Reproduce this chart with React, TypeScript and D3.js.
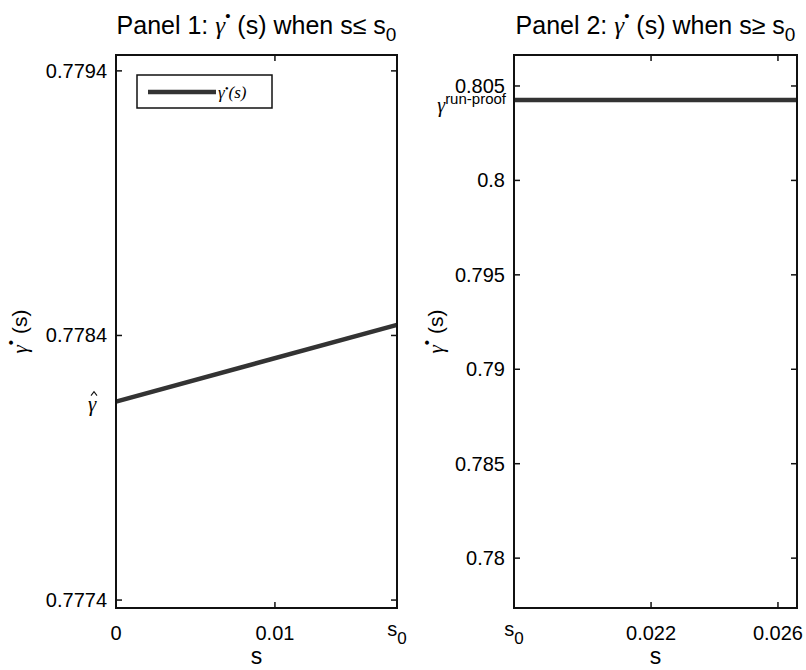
import React from "react";
import * as d3 from "d3";

const S0 = 0.01768;
const panel1S = [0, S0];
const panel1Gamma = [0.77815, 0.77844];
const panel1YTicks = [0.7774, 0.7784, 0.7794];
const panel1XTicks = [0, 0.01, S0];
const panel1XLabels = ["0", "0.01", "s0"];
const panel1Domain = { x: [0, S0], y: [0.77737, 0.77946] };
const gammaHat = 0.77815;

const panel2S = [S0, 0.0266];
const panel2Gamma = [0.80426, 0.80426];
const panel2YTicks = [0.78, 0.785, 0.79, 0.795, 0.8, 0.805];
const panel2XTicks = [S0, 0.022, 0.026];
const panel2XLabels = ["s0", "0.022", "0.026"];
const panel2Domain = { x: [S0, 0.0266], y: [0.77736, 0.80664] };
const gammaRunProof = 0.80426;

const FONT = "'Liberation Sans', Arial, sans-serif";
const SERIF = "'Liberation Serif', 'DejaVu Serif', serif";
const LINE = "#333333";

type PanelProps = {
  left: number; right: number; top: number; bottom: number;
  xs: number[]; ys: number[]; xTicks: number[]; xLabels: string[];
  yTicks: number[]; yFmt: (v: number) => string;
  domain: { x: number[]; y: number[] };
  title: string; rel: string;
  extra: { v: number; kind: "hat" | "run" };
  ylabelOffset: number;
  legend?: boolean;
};

function XLabel({ x, y, label }: { x: number; y: number; label: string }) {
  if (label === "s0") {
    return (
      <text x={x} y={y} fontFamily={FONT} fontSize={20} textAnchor="middle">
        <tspan dy={-4}>s</tspan>
        <tspan dy={8} fontSize={17}>0</tspan>
      </text>
    );
  }
  return (
    <text x={x} y={y} fontFamily={FONT} fontSize={20} textAnchor="middle">{label}</text>
  );
}

function Panel(p: PanelProps) {
  const x = d3.scaleLinear().domain(p.domain.x).range([p.left, p.right]);
  const y = d3.scaleLinear().domain(p.domain.y).range([p.bottom, p.top]);
  const line = d3.line<number>().x((_, i) => x(p.xs[i])).y((d) => y(d));
  const tl = 6;
  const cx = (p.left + p.right) / 2;
  const cy = (p.top + p.bottom) / 2;
  const ev = y(p.extra.v);
  return (
    <g>
      {/* title */}
      <text x={cx} y={34} fontFamily={FONT} fontSize={25} textAnchor="middle">
        <tspan>{p.title + " "}</tspan>
        <tspan fontFamily={SERIF} fontStyle="italic">γ</tspan>
        <tspan dy={-13} fontSize={15}>•</tspan>
        <tspan dy={13}>{" (s) when s"}</tspan>
        <tspan>{p.rel}</tspan>
        <tspan> s</tspan>
        <tspan dy={7} fontSize={19}>0</tspan>
      </text>
      {/* data line */}
      <path d={line(p.ys) || ""} fill="none" stroke={LINE} strokeWidth={4.5} />
      {/* frame */}
      <rect x={p.left} y={p.top} width={p.right - p.left} height={p.bottom - p.top} fill="none" stroke="#111" strokeWidth={2} />
      {/* x ticks */}
      {p.xTicks.map((t, i) => (
        <g key={"x" + i}>
          <line x1={x(t)} x2={x(t)} y1={p.bottom} y2={p.bottom - tl} stroke="#111" strokeWidth={1.5} />
          <line x1={x(t)} x2={x(t)} y1={p.top} y2={p.top + tl} stroke="#111" strokeWidth={1.5} />
          <XLabel x={x(t)} y={640} label={p.xLabels[i]} />
        </g>
      ))}
      {/* y ticks */}
      {p.yTicks.map((t, i) => (
        <g key={"y" + i}>
          <line x1={p.left} x2={p.left + tl} y1={y(t)} y2={y(t)} stroke="#111" strokeWidth={1.5} />
          <line x1={p.right} x2={p.right - tl} y1={y(t)} y2={y(t)} stroke="#111" strokeWidth={1.5} />
          <text x={p.left - 9} y={y(t) + 7} fontFamily={FONT} fontSize={20} textAnchor="end">{p.yFmt(t)}</text>
        </g>
      ))}
      {/* extra tick label */}
      {p.extra.kind === "hat" ? (
        <g>
          <text x={p.left - 28} y={ev + 9} fontFamily={SERIF} fontStyle="italic" fontSize={21}>γ</text>
          <path d={`M${p.left - 25},${ev - 6} L${p.left - 22},${ev - 10} L${p.left - 19},${ev - 6}`} fill="none" stroke="#111" strokeWidth={1.1} />
        </g>
      ) : (
        <text x={p.left - 8} y={ev + 12} fontFamily={FONT} fontSize={20} textAnchor="end">
          <tspan fontFamily={SERIF} fontStyle="italic">γ</tspan>
          <tspan dy={-8} fontSize={15}>run-proof</tspan>
        </text>
      )}
      {/* axis titles */}
      <text x={cx} y={664} fontFamily={FONT} fontSize={23} textAnchor="middle">s</text>
      <text transform={`translate(${p.left - p.ylabelOffset},${cy}) rotate(-90)`} fontFamily={FONT} fontSize={21} textAnchor="middle">
        <tspan fontFamily={SERIF} fontStyle="italic">γ</tspan>
        <tspan dy={-11} fontSize={15}>•</tspan>
        <tspan dy={11}>{" (s)"}</tspan>
      </text>
      {p.legend && (
        <g>
          <rect x={p.left + 21} y={75} width={135} height={33} fill="#fff" stroke="#111" strokeWidth={1.5} />
          <line x1={p.left + 32} x2={p.left + 100} y1={92} y2={92} stroke={LINE} strokeWidth={4.5} />
          <text x={p.left + 102} y={98} fontFamily={SERIF} fontStyle="italic" fontSize={17}>
            γ<tspan dy={-6} fontSize={11}>•</tspan><tspan dy={6}>{"(s)"}</tspan>
          </text>
        </g>
      )}
    </g>
  );
}

export default function App() {
  return (
    <svg width={806} height={670} style={{ display: "block", position: "absolute", left: 0, top: 0, background: "#fff" }}>
      <rect x={0} y={0} width={806} height={670} fill="#fff" />
      <Panel left={116} right={397} top={55} bottom={608}
        xs={panel1S} ys={panel1Gamma} xTicks={panel1XTicks} xLabels={panel1XLabels}
        yTicks={panel1YTicks} yFmt={(v) => v.toFixed(4)} domain={panel1Domain}
        title="Panel 1:" rel="≤" extra={{ v: gammaHat, kind: "hat" }} ylabelOffset={89} legend />
      <Panel left={514} right={797} top={55} bottom={608}
        xs={panel2S} ys={panel2Gamma} xTicks={panel2XTicks} xLabels={panel2XLabels}
        yTicks={panel2YTicks} yFmt={(v) => d3.format("")(+v.toFixed(3))} domain={panel2Domain}
        title="Panel 2:" rel="≥" extra={{ v: gammaRunProof, kind: "run" }} ylabelOffset={71} />
    </svg>
  );
}
